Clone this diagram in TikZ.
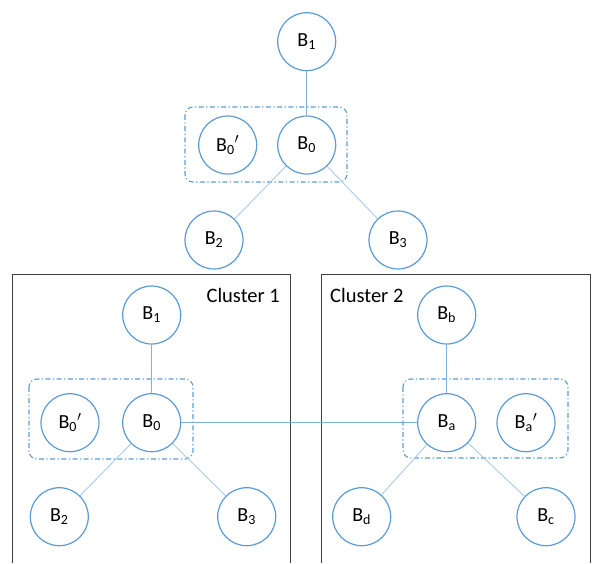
\documentclass[tikz,border=0pt]{standalone}
\usepackage{fontspec}
\setmainfont{Carlito}
\definecolor{nodeblue}{HTML}{5B9BD5}
\definecolor{edgeblue}{HTML}{7EB0E0}
\definecolor{edgelight}{HTML}{A9CBEC}
\definecolor{boxgray}{HTML}{404040}
\begin{document}
\begin{tikzpicture}[x=1pt,y=-1pt,
  bnode/.style={circle,draw=nodeblue,line width=1.2pt,minimum size=58pt,inner sep=0pt,font=\fontsize{20}{24}\selectfont},
  vedge/.style={draw=edgeblue,line width=1pt},
  dedge/.style={draw=edgelight,line width=0.9pt},
  groupbox/.style={draw=nodeblue,line width=1.1pt,dash pattern=on 5pt off 2.5pt on 1.2pt off 2.5pt,rounded corners=8pt},
  clusterline/.style={draw=boxgray,line width=1pt},
  clusterlabel/.style={font=\fontsize{20.5}{24}\selectfont,inner sep=0pt}]
\useasboundingbox (0,0) rectangle (592,563);
% top
\node[bnode] (t1) at (306.7,41.7) {B\textsubscript{1}};
\node[bnode] (t0) at (306.7,145) {B\textsubscript{0}};
\node[bnode] (t0p) at (227.7,145) {B\textsubscript{0}$^{\prime}$};
\node[bnode] (t2) at (214,240) {B\textsubscript{2}};
\node[bnode] (t3) at (398,240) {B\textsubscript{3}};
\draw[groupbox] (185,107) rectangle (347,182);
\draw[vedge] (t1) -- (t0);
\draw[dedge] (t0) -- (t2);
\draw[dedge] (t0) -- (t3);
% cluster frames
\draw[clusterline] (12,563) -- (12,274) -- (290,274) -- (290,563);
\draw[clusterline] (321,563) -- (321,274) -- (590,274) -- (590,563);
\node[clusterlabel,anchor=east] (c1) at (280,295) {Cluster 1};
\node[clusterlabel,anchor=west] (c2) at (330,295) {Cluster 2};
% cluster 1
\node[bnode] (a1) at (151.7,315) {B\textsubscript{1}};
\node[bnode] (a0) at (151.7,422.7) {B\textsubscript{0}};
\node[bnode] (a0p) at (70,422.7) {B\textsubscript{0}$^{\prime}$};
\node[bnode] (a2) at (59.3,516.7) {B\textsubscript{2}};
\node[bnode] (a3) at (246.7,516.7) {B\textsubscript{3}};
\draw[groupbox] (29,379) rectangle (193,459);
\draw[vedge] (a1) -- (a0);
\draw[dedge] (a0) -- (a2);
\draw[dedge] (a0) -- (a3);
% cluster 2
\node[bnode] (bb) at (446.7,315) {B\textsubscript{b}};
\node[bnode] (ba) at (446.7,422.7) {B\textsubscript{a}};
\node[bnode] (bap) at (526,422.7) {B\textsubscript{a}$^{\prime}$};
\node[bnode] (bd) at (361.7,516.7) {B\textsubscript{d}};
\node[bnode] (bc) at (546,516.7) {B\textsubscript{c}};
\draw[groupbox] (403,379) rectangle (568,458);
\draw[vedge] (bb) -- (ba);
\draw[dedge] (ba) -- (bd);
\draw[dedge] (ba) -- (bc);
% inter-cluster link
\draw[vedge] (a0) -- (ba);
\end{tikzpicture}
\end{document}
